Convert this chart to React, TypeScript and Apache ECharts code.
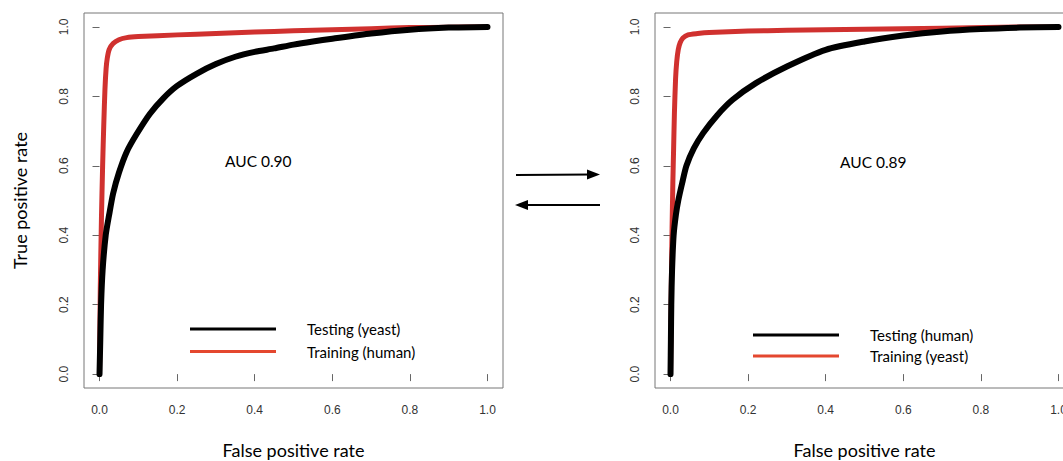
import React, { useEffect, useRef } from "react";
import * as echarts from "echarts";

const tickValues = [0, 0.2, 0.4, 0.6, 0.8, 1.0];

const leftTesting: number[][] = [
  [0, 0], [0.002, 0.1], [0.004, 0.2], [0.008, 0.3], [0.016, 0.4], [0.025, 0.46], [0.035, 0.52],
  [0.05, 0.58], [0.07, 0.64], [0.095, 0.69], [0.13, 0.75], [0.165, 0.795], [0.2, 0.83],
  [0.25, 0.865], [0.3, 0.893], [0.35, 0.914], [0.4, 0.928], [0.45, 0.938], [0.5, 0.949],
  [0.55, 0.958], [0.6, 0.966], [0.7, 0.981], [0.8, 0.992], [0.9, 0.998], [1, 1],
];
const leftTraining: number[][] = [
  [0, 0], [0.002, 0.25], [0.005, 0.45], [0.008, 0.6], [0.011, 0.72], [0.014, 0.82], [0.017, 0.88],
  [0.02, 0.91], [0.025, 0.935], [0.035, 0.952], [0.05, 0.963], [0.07, 0.969], [0.1, 0.972],
  [0.2, 0.977], [0.3, 0.981], [0.4, 0.985], [0.5, 0.989], [0.6, 0.992], [0.7, 0.995],
  [0.8, 0.998], [0.9, 0.999], [1, 1],
];
const rightTesting: number[][] = [
  [0, 0], [0.001, 0.1], [0.002, 0.2], [0.004, 0.3], [0.008, 0.4], [0.014, 0.46], [0.02, 0.5],
  [0.03, 0.55], [0.041, 0.6], [0.06, 0.65], [0.084, 0.694], [0.12, 0.745], [0.16, 0.79],
  [0.22, 0.838], [0.3, 0.886], [0.4, 0.934], [0.5, 0.958], [0.6, 0.975], [0.7, 0.987],
  [0.8, 0.994], [0.9, 0.998], [1, 1],
];
const rightTraining: number[][] = [
  [0, 0], [0.002, 0.25], [0.004, 0.42], [0.006, 0.55], [0.008, 0.65], [0.01, 0.75], [0.013, 0.85],
  [0.016, 0.9], [0.02, 0.935], [0.025, 0.955], [0.032, 0.968], [0.045, 0.977], [0.07, 0.981],
  [0.1, 0.984], [0.2, 0.988], [0.3, 0.99], [0.5, 0.993], [0.7, 0.996], [0.85, 0.999], [1, 1],
];

const leftNames = ["Testing (yeast)", "Training (human)"];
const rightNames = ["Testing (human)", "Training (yeast)"];
const aucLabels = ["AUC 0.90", "AUC 0.89"];
const axisTitles = { x: "False positive rate", y: "True positive rate" };

const BLACK = "#000000";
const RED = "#d0312f";
const LEGEND_RED = "#e4472f";
const TITLE_FONT = "Lato, 'Open Sans', sans-serif";
const TICK_FONT = "'Liberation Sans', Arial, sans-serif";

function makeXAxis(gridIndex: number) {
  return {
    type: "value",
    gridIndex,
    min: -0.04,
    max: 1.04,
    name: axisTitles.x,
    nameLocation: "middle",
    nameGap: 53,
    nameTextStyle: { fontFamily: TITLE_FONT, fontSize: 18, color: "#000" },
    axisLine: { show: false },
    axisTick: { show: true, length: 7, customValues: tickValues, lineStyle: { color: "#666" } },
    axisLabel: {
      customValues: tickValues,
      formatter: (v: number) => v.toFixed(1),
      margin: 16,
      fontFamily: TICK_FONT,
      fontSize: 12,
      color: "#333",
    },
    splitLine: { show: false },
  };
}

function makeYAxis(gridIndex: number, withName: boolean) {
  return {
    type: "value",
    gridIndex,
    min: -0.04,
    max: 1.04,
    name: withName ? axisTitles.y : "",
    nameLocation: "middle",
    nameGap: 55,
    nameTextStyle: { fontFamily: TITLE_FONT, fontSize: 18, color: "#000" },
    axisLine: { show: false },
    axisTick: { show: true, length: 7, customValues: tickValues, lineStyle: { color: "#666" } },
    axisLabel: {
      customValues: tickValues,
      formatter: (v: number) => v.toFixed(1),
      rotate: 90,
      margin: 14,
      fontFamily: TICK_FONT,
      fontSize: 12,
      color: "#333",
    },
    splitLine: { show: false },
  };
}

function lineSeries(name: string, data: number[][], idx: number, color: string, width: number, z: number) {
  return {
    type: "line",
    name,
    data,
    xAxisIndex: idx,
    yAxisIndex: idx,
    showSymbol: false,
    symbol: "none",
    smooth: 0.25,
    z,
    lineStyle: { color, width, cap: "round", join: "round" },
    itemStyle: { color },
  };
}

function makeLegend(names: string[], left: number, top: number, gap: number) {
  return {
    orient: "vertical",
    left,
    top,
    padding: 0,
    icon: "rect",
    itemWidth: 86,
    itemHeight: 3,
    itemGap: gap,
    selectedMode: false,
    data: [
      { name: names[0], itemStyle: { color: BLACK } },
      { name: names[1], itemStyle: { color: LEGEND_RED } },
    ],
    textStyle: {
      fontFamily: TITLE_FONT,
      fontSize: 15,
      color: "#000",
      padding: [0, 0, 0, 26],
      lineHeight: 16,
    },
  };
}

export default function App() {
  const ref = useRef<HTMLDivElement>(null);
  useEffect(() => {
    if (!ref.current) return;
    const chart = echarts.init(ref.current, null, { renderer: "svg" });
    chart.setOption({
      animation: false,
      backgroundColor: "#ffffff",
      grid: [
        { left: 84, top: 13, width: 419, height: 375, outerBoundsMode: "none", show: true, borderColor: "#777", borderWidth: 1, backgroundColor: "transparent" },
        { left: 655, top: 13, width: 419, height: 375, outerBoundsMode: "none", show: true, borderColor: "#777", borderWidth: 1, backgroundColor: "transparent" },
      ],
      xAxis: [makeXAxis(0), makeXAxis(1)],
      yAxis: [makeYAxis(0, true), makeYAxis(1, false)],
      legend: [makeLegend(leftNames, 190, 321, 6.5), makeLegend(rightNames, 753, 327, 5)],
      series: [
        lineSeries(leftNames[1], leftTraining, 0, RED, 5, 2),
        lineSeries(leftNames[0], leftTesting, 0, BLACK, 6, 3),
        lineSeries(rightNames[1], rightTraining, 1, RED, 5, 2),
        lineSeries(rightNames[0], rightTesting, 1, BLACK, 6, 3),
      ],
      graphic: [
        {
          type: "text",
          left: 225,
          top: 153,
          style: { text: aucLabels[0], fontFamily: TITLE_FONT, fontSize: 15.5, fill: "#000" },
        },
        {
          type: "text",
          left: 840,
          top: 154,
          style: { text: aucLabels[1], fontFamily: TITLE_FONT, fontSize: 15.5, fill: "#000" },
        },
        {
          type: "polyline",
          shape: { points: [[516, 175], [592, 174.5]] },
          style: { stroke: "#000", lineWidth: 2, fill: "none" },
        },
        {
          type: "polygon",
          shape: { points: [[587, 169.5], [600, 174.5], [587, 179.5]] },
          style: { fill: "#000" },
        },
        {
          type: "polyline",
          shape: { points: [[524, 205], [600, 205]] },
          style: { stroke: "#000", lineWidth: 2, fill: "none" },
        },
        {
          type: "polygon",
          shape: { points: [[528, 200], [515, 205], [528, 210]] },
          style: { fill: "#000" },
        },
      ],
    });
    return () => chart.dispose();
  }, []);
  return (
    <div
      ref={ref}
      style={{ position: "fixed", left: 0, top: 0, width: 1063, height: 461, background: "#fff" }}
    />
  );
}
